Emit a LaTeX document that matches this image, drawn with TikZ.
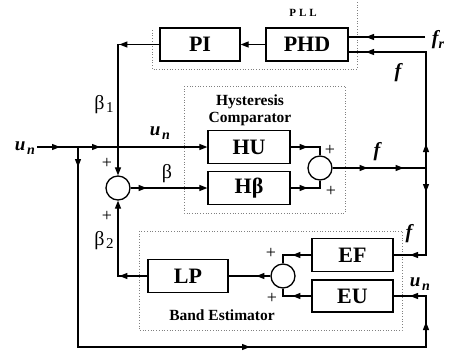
\documentclass[tikz,border=0pt]{standalone}
\usepackage{fontspec}
\setmainfont{Liberation Serif}
\usetikzlibrary{arrows.meta,decorations.markings}
\newcommand{\myun}{{\fontsize{19}{19}\selectfont\bfseries\itshape u}\,\raisebox{-4pt}{\fontsize{14}{14}\selectfont\bfseries\itshape n}}
\newcommand{\myf}{{\fontsize{20}{20}\selectfont\bfseries\itshape f}}
\newcommand{\mybeta}[1]{{\fontsize{20}{20}\selectfont β}\,\raisebox{-3pt}{\fontsize{15}{15}\selectfont #1}}
\begin{document}
\begin{tikzpicture}[x=1pt,y=-1pt,
  tri/.tip={Triangle[length=8pt,width=6pt]},
  blk/.style={draw,line width=1.3pt,minimum width=81pt,minimum height=33pt,inner sep=0pt,font=\fontsize{22}{22}\selectfont\bfseries},
  sumc/.style={draw,circle,line width=1.3pt,minimum size=24pt,inner sep=0pt},
  ln/.style={line width=1.2pt},
  ma/.style={postaction={decorate,decoration={markings,mark=at position #1 with {\arrow{tri}}}}},
  dotbox/.style={draw=gray,dotted,line width=0.7pt},
  lbl/.style={inner sep=0pt,font=\fontsize{15.5}{17}\selectfont\bfseries,align=center},
  pl/.style={inner sep=0pt,font=\fontsize{18}{18}\selectfont}]
\useasboundingbox (0,0) rectangle (449,354);
% dotted groups
\draw[dotbox] (152,30) -- (152,69) -- (357,69) -- (357,2);
\draw[dotbox] (184,86) rectangle (345,213);
\draw[dotbox] (139,231) rectangle (402,330);
% blocks
\node[blk,minimum width=80pt] (pi) at (200,44.5) {PI};
\node[blk,minimum width=82pt] (phd) at (307,44.5) {PHD};
\node[blk,minimum width=82pt] (hu) at (249,147) {HU};
\node[blk,minimum width=82pt] (hb) at (249,188) {Hβ};
\node[blk] (ef) at (352.5,255) {EF};
\node[blk,minimum height=32pt] (eu) at (352.5,296) {EU};
\node[blk,minimum width=80pt] (lp) at (188,276) {LP};
\node[sumc] (s1) at (118,188) {};
\node[sumc] (s2) at (320,168) {};
\node[sumc] (s3) at (283,276) {};
% coordinates
\coordinate (uin) at (37,147);
\coordinate (b1) at (78,147);
\coordinate (bl) at (78,347);
\coordinate (br) at (426,347);
\coordinate (eur) at (426,296);
\coordinate (c1) at (118,44.5);
\coordinate (c2) at (118,276);
\coordinate (hue) at (320,147);
\coordinate (hbe) at (320,188);
\coordinate (efc) at (283,255);
\coordinate (euc) at (283,296);
\coordinate (r1) at (426,168);
\coordinate (rt) at (426,52);
\coordinate (p2) at (348,52);
\coordinate (p1) at (348,37);
\coordinate (frin) at (425,37);
\coordinate (efr) at (426,255);
% labels
\node[lbl,font=\fontsize{11}{11}\selectfont\bfseries] (pll) at (303,13) {P\hspace{3pt}L\hspace{3pt}L};
\node[lbl] (hyst) at (250,110) {Hysteresis\\Comparator};
\node[lbl] (band) at (222,315) {Band Estimator};
\node[inner sep=0pt,anchor=east] (lun1) at (35,148) {\myun};
\node[inner sep=0pt] (lun2) at (160,133) {\myun};
\node[inner sep=0pt] (lun3) at (420,284) {\myun};
\node[inner sep=0pt] (lb1) at (104,105) {\mybeta{1}};
\node[inner sep=0pt] (lb2) at (104,241) {\mybeta{2}};
\node[inner sep=0pt,font=\fontsize{20}{20}\selectfont] (lb) at (167,174) {β};
\node[inner sep=0pt] (lf1) at (398,73) {\myf};
\node[inner sep=0pt] (lf2) at (377,152) {\myf};
\node[inner sep=0pt] (lf3) at (409,234) {\myf};
\node[inner sep=0pt] (lfr) at (438,40) {\myf\raisebox{-4pt}{\fontsize{14}{14}\selectfont\bfseries\itshape r}};
\node[pl] (pa) at (107,163) {+};
\node[pl] (pb) at (107,216) {+};
\node[pl] (pc) at (330,150) {+};
\node[pl] (pd) at (331,191) {+};
\node[pl] (pe) at (271,253) {+};
\node[pl] (pf) at (272,298) {+};
% connectors
\draw[ln,-{tri}] (phd.west) -- (pi.east);
\draw[ln,-{tri},ma=40pt] (pi.west) -- (c1) -- (s1.north);
\draw[ln,-{tri},ma=23pt,ma=63pt] (uin) -- (hu.west);
\draw[ln,ma=20pt,ma=372pt,ma=573pt,ma=615pt] (b1) -- (bl) -- (br) -- (eur) -- (eu.east);
\draw[ln,-{tri},ma=16pt] (s1.east) -- (hb.west);
\draw[ln,-{tri},ma=28pt] (lp.west) -- (c2) -- (s1.south);
\draw[ln,ma=14pt] (s3.west) -- (lp.east);
\draw[ln,ma=19pt] (ef.west) -- (efc) -- (s3.north);
\draw[ln,ma=19pt] (eu.west) -- (euc) -- (s3.south);
\draw[ln,ma=17pt] (hu.east) -- (hue) -- (s2.north);
\draw[ln,ma=17pt] (hb.east) -- (hbe) -- (s2.south);
\draw[ln,ma=35pt,ma=71pt] (s2.east) -- (r1);
\draw[ln,ma=24pt,ma=176pt] (r1) -- (rt) -- (p2);
\draw[ln,ma=24pt,ma=103pt] (r1) -- (efr) -- (ef.east);
\draw[ln,ma=59pt] (frin) -- (p1);
\end{tikzpicture}
\end{document}
